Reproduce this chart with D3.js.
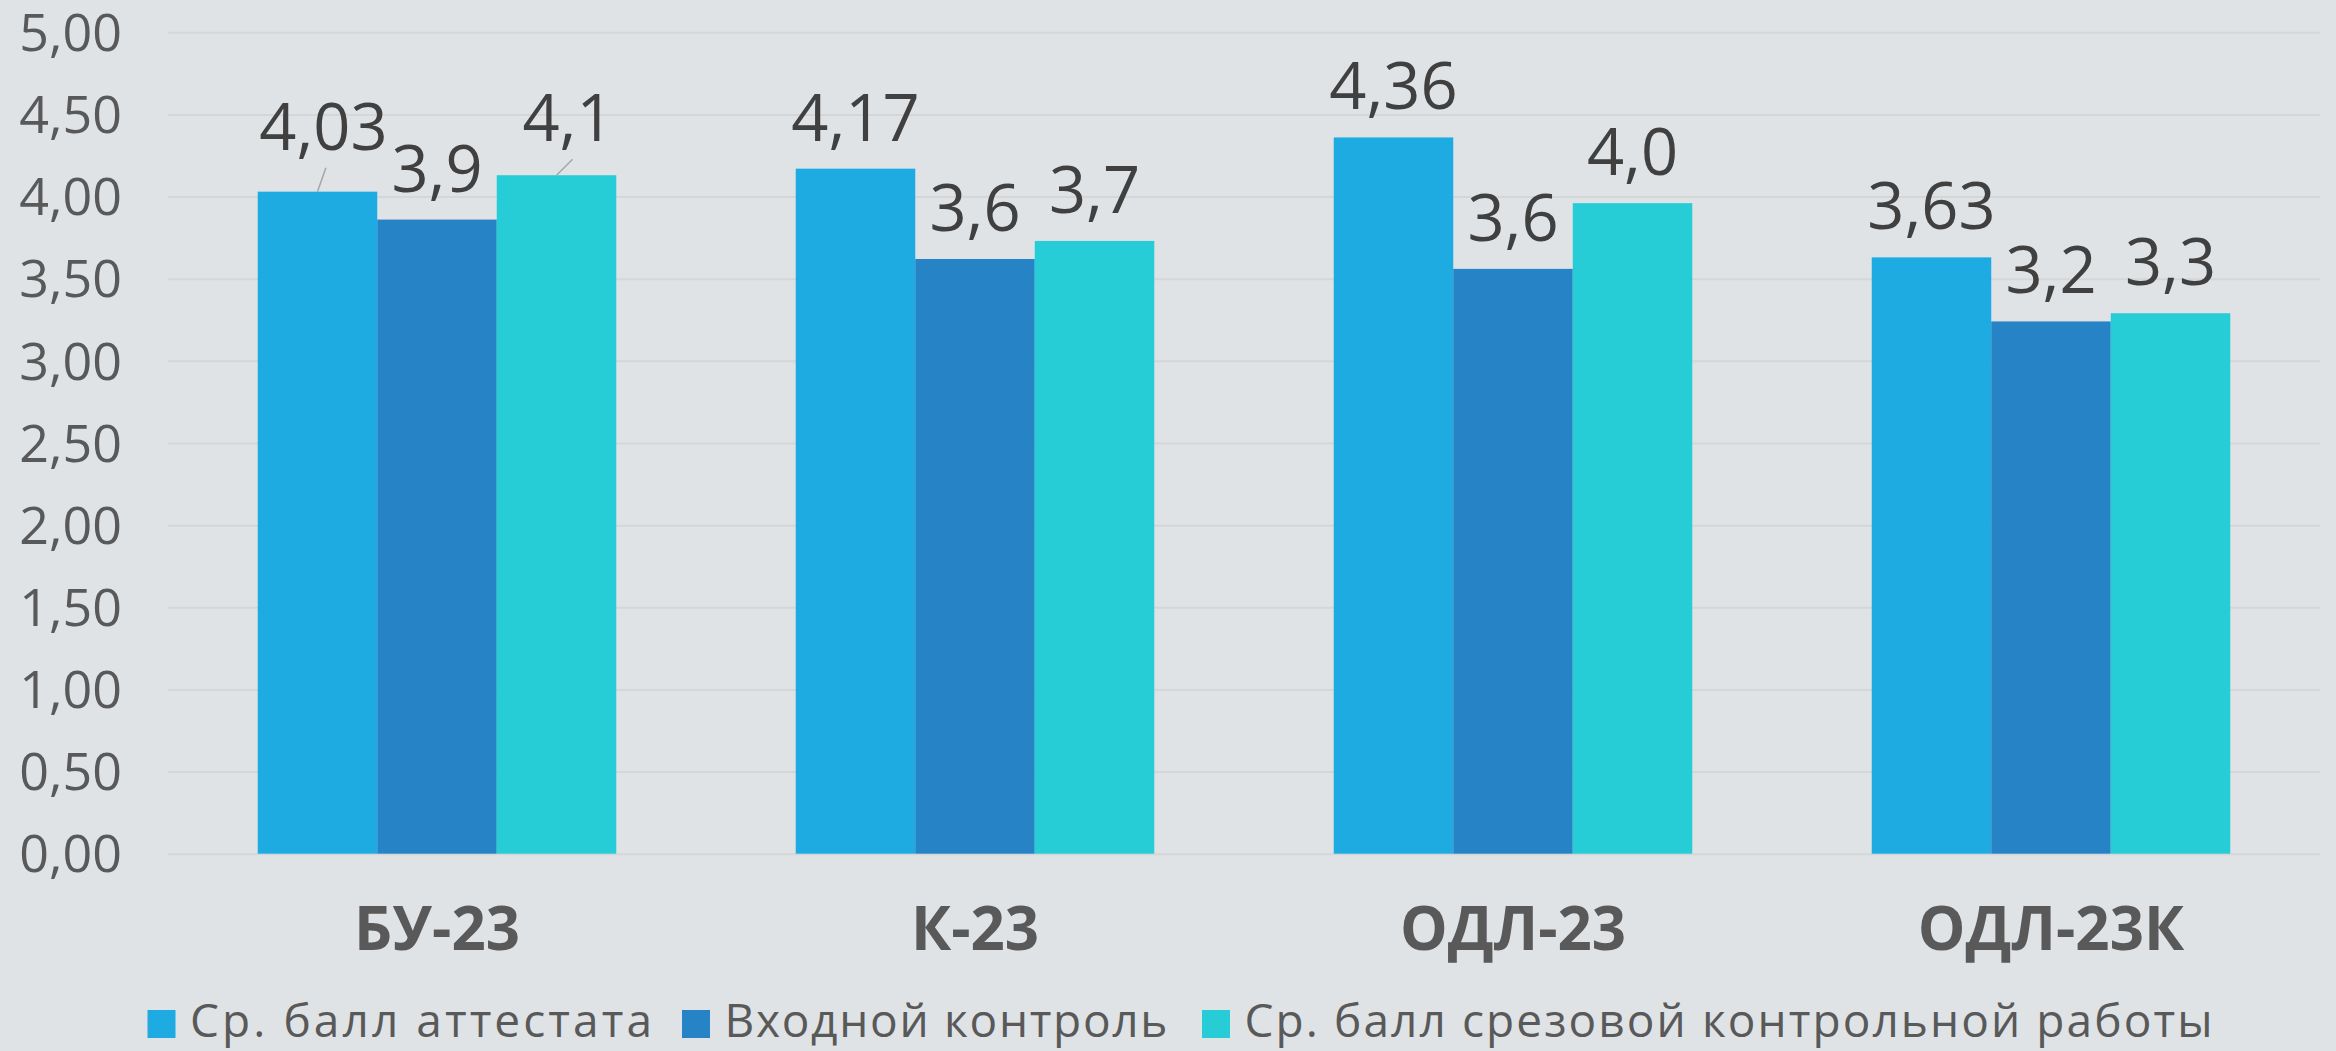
<!DOCTYPE html>
<html><head><meta charset="utf-8">
<script src="https://cdn.jsdelivr.net/npm/d3@7"></script>
<style>
html,body{margin:0;padding:0;background:#DFE3E6;}
svg{display:block;}
</style></head>
<body>
<svg id="chart" width="2336" height="1051"></svg>
<script>
const categories = ["БУ-23", "К-23", "ОДЛ-23", "ОДЛ-23К"];
const seriesNames = ["Ср. балл аттестата", "Входной контроль", "Ср. балл срезовой контрольной работы"];
const attestat = [4.03, 4.17, 4.36, 3.63];
const vhodnoy = [3.86, 3.62, 3.56, 3.24];
const srez = [4.13, 3.73, 3.96, 3.29];
const labelDecimals = [2, 1, 1];
const yTicks = [0, 0.5, 1, 1.5, 2, 2.5, 3, 3.5, 4, 4.5, 5];

const seriesValues = [attestat, vhodnoy, srez];
const colors = ["#1EABE2", "#2683C6", "#27CDD6"];
const font = "'Open Sans', 'Noto Sans', sans-serif";

const svg = d3.select("#chart");
svg.append("rect").attr("width", 2336).attr("height", 1051).attr("fill", "#DFE3E6");

const plotLeft = 168, plotRight = 2320, plotTop = 32.3, plotBottom = 853.7;
const y = d3.scaleLinear().domain([0, 5]).range([plotBottom, plotTop]);
const x0 = d3.scaleBand().domain(categories).range([plotLeft, plotRight]).paddingInner(0.3336).paddingOuter(0.1668);
const x1 = d3.scaleBand().domain(d3.range(seriesNames.length)).range([0, x0.bandwidth()]);

const comma = s => s.replace(".", ",");

// gridlines + y tick labels
const yAxis = d3.axisLeft(y).tickValues(yTicks).tickSize(-(plotRight - plotLeft)).tickFormat(d => comma(d3.format(".2f")(d)));
const gy = svg.append("g").attr("transform", `translate(${plotLeft},0)`).call(yAxis);
gy.select(".domain").remove();
gy.selectAll(".tick line").attr("stroke", "#D5D6D7").attr("stroke-width", 2);
gy.selectAll(".tick text")
  .attr("x", -46).attr("dy", "0.35em")
  .attr("fill", "#595959").style("font-family", font).style("font-size", "52px");

// bars
const rows = categories.map((c, i) => ({cat: c, vals: seriesValues.map((s, j) => ({j, v: s[i]}))}));
const groups = svg.append("g").selectAll("g").data(rows).join("g")
  .attr("transform", d => `translate(${x0(d.cat)},0)`);
groups.selectAll("rect").data(d => d.vals).join("rect")
  .attr("x", d => x1(d.j)).attr("width", x1.bandwidth())
  .attr("y", d => y(d.v)).attr("height", d => y(0) - y(d.v))
  .attr("fill", d => colors[d.j]);

// data labels (layout shifts for moved labels)
const shift = {"0-0": [6, -14], "0-2": [11.5, -6]};
rows.forEach((r, i) => {
  r.vals.forEach(d => {
    const cx = x0(r.cat) + x1(d.j) + x1.bandwidth() / 2;
    const barTop = y(d.v);
    const key = i + "-" + d.j;
    const s = shift[key] || [0, 0];
    const bx = cx + s[0], by = barTop - 28 + s[1];
    if (shift[key]) {
      svg.append("line")
        .attr("x1", cx).attr("y1", barTop)
        .attr("x2", cx + s[0] * 1.4).attr("y2", by + 18)
        .attr("stroke", "#A6A6A6").attr("stroke-width", 1.5);
    }
    svg.append("text").attr("x", bx).attr("y", by)
      .attr("text-anchor", "middle").attr("fill", "#404040")
      .style("font-family", font).style("font-size", "65px")
      .text(comma(d3.format("." + labelDecimals[d.j] + "f")(d.v)));
  });
});

// category labels
svg.append("g").selectAll("text").data(categories).join("text")
  .attr("x", d => x0(d) + x0.bandwidth() / 2).attr("y", 950)
  .attr("text-anchor", "middle").attr("fill", "#595959")
  .style("font-family", font).style("font-weight", "bold").style("font-size", "60px")
  .text(d => d);

// legend (layout widths matched to reference rendering)
const legendTextWidths = [462, 443, 968];
const legendGaps = [30, 34.5, 0];
const lg = svg.append("g");
let lx = 147.5;
seriesNames.forEach((n, j) => {
  lg.append("rect").attr("x", lx).attr("y", 1010).attr("width", 28).attr("height", 28).attr("fill", colors[j]);
  lg.append("text").attr("x", lx + 42.5).attr("y", 1036.5)
    .attr("textLength", legendTextWidths[j]).attr("lengthAdjust", "spacing")
    .attr("fill", "#595959").style("font-family", font).style("font-size", "46px").text(n);
  lx = lx + 42.5 + legendTextWidths[j] + legendGaps[j];
});
</script>
</body></html>
